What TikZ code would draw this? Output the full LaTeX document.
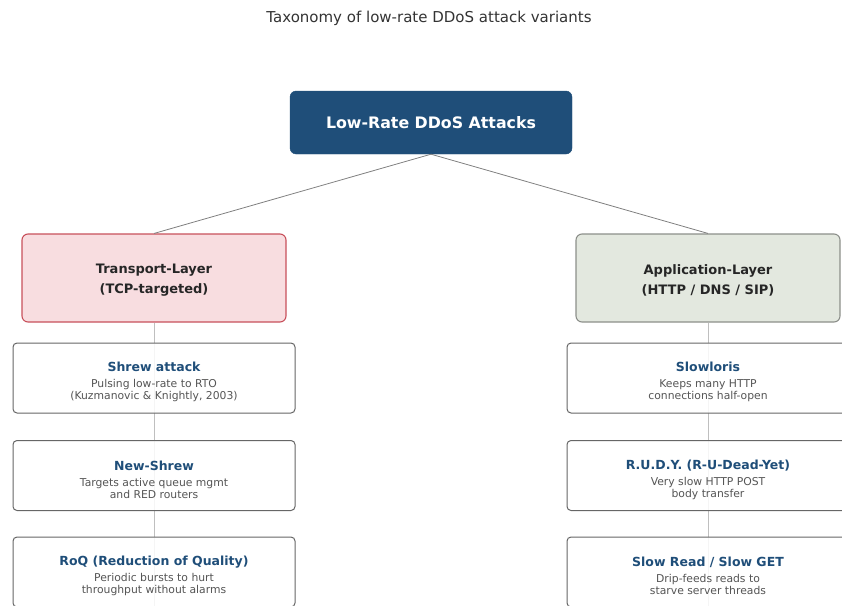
\documentclass[tikz,border=0pt]{standalone}
\usepackage{fontspec}
\setmainfont{DejaVu Sans}
\usetikzlibrary{backgrounds}
\usepackage{xcolor}
\definecolor{rootblue}{HTML}{1F4E79}
\definecolor{tcpfill}{HTML}{F8DDE0}
\definecolor{tcpline}{HTML}{C8505B}
\definecolor{appfill}{HTML}{E3E8DF}
\definecolor{appline}{HTML}{8C8F8A}
\definecolor{leafline}{HTML}{666666}
\definecolor{desctext}{HTML}{555555}

\begin{document}
\begin{tikzpicture}[x=1pt, y=-1pt,
	root/.style = {draw=rootblue, fill=rootblue, rounded corners=6pt, minimum width=282pt, minimum height=63pt, text=white, font=\fontsize{15.8}{18}\selectfont\bfseries},
	layer/.style = {rounded corners=6pt, line width=1.1pt, minimum width=264pt, minimum height=88pt, align=center, text=black!85, font=\fontsize{13}{20}\selectfont\bfseries},
	leaf/.style = {draw=leafline, fill=white, fill opacity=0.85, text opacity=1, rounded corners=4pt, line width=1pt, minimum width=282pt, minimum height=70pt, align=center, text=desctext, font=\fontsize{10.8}{12}\selectfont},
	link/.style = {draw=black!50, line width=0.8pt},
	vlink/.style = {draw=black!25, line width=0.8pt},
	ttl/.style = {font=\fontsize{15}{18}\selectfont, text=black!80}
]
\useasboundingbox (0,0) rectangle (842,605);
\clip (0,0) rectangle (842,605);

% Title
\node[ttl] (title) at (429,18.5) {Taxonomy of low-rate DDoS attack variants};

% Root
\node[root] (R) at (431,122.5) {Low-Rate DDoS Attacks};

% The two layers
\node[layer, draw=tcpline, fill=tcpfill] (TL) at (154,278) {{\rule{0pt}{14pt}Transport-Layer}\\(TCP-targeted)};
\node[layer, draw=appline, fill=appfill] (AL) at (708,278) {{\rule{0pt}{14pt}Application-Layer}\\(HTTP / DNS / SIP)};

\draw[link] (R.south) -- (TL.north);
\draw[link] (R.south) -- (AL.north);

% Transport-layer variants (the rule lifts the title line a little)
\node[leaf] (T1) at (154,378) {{\rule{0pt}{18pt}\fontsize{12.5}{15}\selectfont\bfseries\color{rootblue}Shrew attack}\\[4pt]Pulsing low-rate to RTO\\(Kuzmanovic \& Knightly, 2003)};
\node[leaf] (T2) at (154,475.5) {{\rule{0pt}{18pt}\fontsize{12.5}{15}\selectfont\bfseries\color{rootblue}New-Shrew}\\[4pt]Targets active queue mgmt\\and RED routers};
\node[leaf] (T3) at (154,572) {{\rule{0pt}{18pt}\fontsize{12.5}{15}\selectfont\bfseries\color{rootblue}RoQ (Reduction of Quality)}\\[4pt]Periodic bursts to hurt\\throughput without alarms};

% Application-layer variants
\node[leaf] (A1) at (708,378) {{\rule{0pt}{18pt}\fontsize{12.5}{15}\selectfont\bfseries\color{rootblue}Slowloris}\\[4pt]Keeps many HTTP\\connections half-open};
\node[leaf] (A2) at (708,475.5) {{\rule{0pt}{18pt}\fontsize{12.5}{15}\selectfont\bfseries\color{rootblue}R.U.D.Y. (R-U-Dead-Yet)}\\[4pt]Very slow HTTP POST\\body transfer};
\node[leaf] (A3) at (708,572) {{\rule{0pt}{18pt}\fontsize{12.5}{15}\selectfont\bfseries\color{rootblue}Slow Read / Slow GET}\\[4pt]Drip-feeds reads to\\starve server threads};

% Spines behind the variant boxes
\begin{scope}[on background layer]
\draw[vlink] (TL.south) -- (T3.south);
\draw[vlink] (AL.south) -- (A3.south);
\end{scope}

\end{tikzpicture}
\end{document}
